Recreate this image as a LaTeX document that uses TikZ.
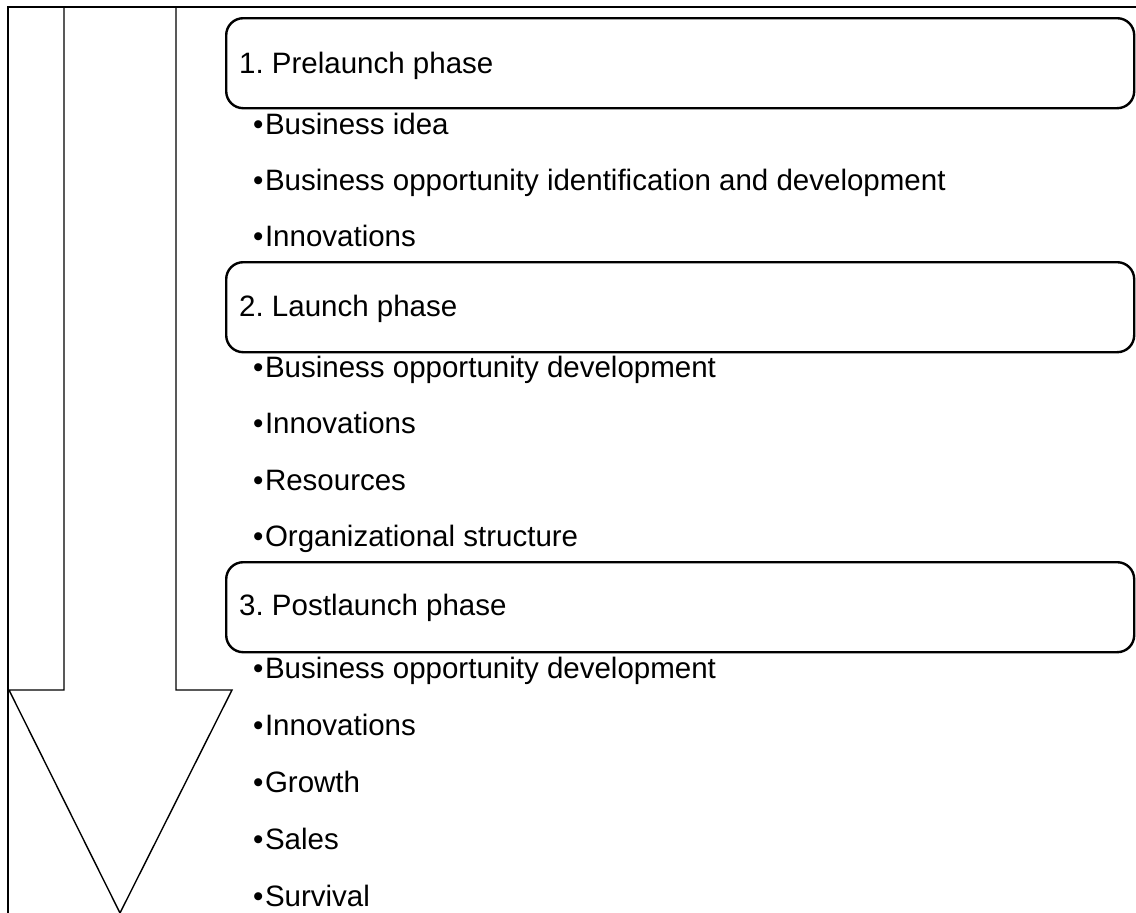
\documentclass[tikz,border=0pt]{standalone}
\usepackage{fontspec}
\setmainfont{Liberation Sans}
\frenchspacing
\newcommand{\itemdot}{•\hspace{1.5pt}}
\begin{document}
\begin{tikzpicture}[x=1pt,y=-1pt,
  frameline/.style={line width=1.4pt,black},
  arrowline/.style={line width=1.4pt,black,line join=miter},
  phasebox/.style={draw,line width=2.4pt,rounded corners=17pt,
    minimum width=908pt,minimum height=90pt,inner sep=0pt,anchor=north west},
  phasetitle/.style={anchor=base west,inner sep=0pt,font=\fontsize{29.5}{35}\selectfont},
  item/.style={anchor=base west,inner sep=0pt,font=\fontsize{29.5}{35}\selectfont}]
\useasboundingbox (0,0) rectangle (1136,913);

% outer frame: top and left edges
\coordinate (ftl) at (8,7);
\coordinate (ftr) at (1137,7);
\coordinate (fbl) at (8,914);
\draw[frameline] (ftr) -- (ftl) -- (fbl);

% downward block arrow
\coordinate (a1) at (64,7);
\coordinate (a2) at (64,690);
\coordinate (a3) at (9,690);
\coordinate (a4) at (120,913);
\coordinate (a5) at (232,690);
\coordinate (a6) at (176,690);
\coordinate (a7) at (176,7);
\draw[arrowline] (a1) -- (a2) -- (a3) -- (a4) -- (a5) -- (a6) -- (a7);

% phase boxes
\node[phasebox] (box1) at (225,17) {};
\node[phasebox] (box2) at (225,261) {};
\node[phasebox] (box3) at (225,561) {};

\node[phasetitle] (t1) at (239,73) {1. Prelaunch phase};
\node[phasetitle] (t2) at (239,316) {2. Launch phase};
\node[phasetitle] (t3) at (239,615) {3. Postlaunch phase};

% items of phase 1
\node[item] (i11) at (253,134) {\itemdot Business idea};
\node[item] (i12) at (253,190) {\itemdot Business opportunity identification and development};
\node[item] (i13) at (253,246) {\itemdot Innovations};

% items of phase 2
\node[item] (i21) at (253,377) {\itemdot Business opportunity development};
\node[item] (i22) at (253,433.5) {\itemdot Innovations};
\node[item] (i23) at (253,490) {\itemdot Resources};
\node[item] (i24) at (253,546.5) {\itemdot Organizational structure};

% items of phase 3
\node[item] (i31) at (253,678) {\itemdot Business opportunity development};
\node[item] (i32) at (253,735) {\itemdot Innovations};
\node[item] (i33) at (253,792) {\itemdot Growth};
\node[item] (i34) at (253,849) {\itemdot Sales};
\node[item] (i35) at (253,906) {\itemdot Survival};
\end{tikzpicture}
\end{document}
